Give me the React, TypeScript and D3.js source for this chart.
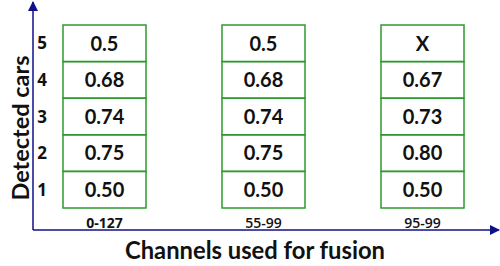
import React from 'react';
import * as d3 from 'd3';

const channels = ['0-127', '55-99', '95-99'];
const detectedCars = [5, 4, 3, 2, 1];
// values per column, listed top (5 cars) to bottom (1 car)
const col0127 = ['0.5', '0.68', '0.74', '0.75', '0.50'];
const col5599 = ['0.5', '0.68', '0.74', '0.75', '0.50'];
const col9599 = ['X', '0.67', '0.73', '0.80', '0.50'];
const values = [col0127, col5599, col9599];

const W = 500;
const H = 266;
const font = 'Lato, "Open Sans", sans-serif';
const smallFont = '"Open Sans", sans-serif';
const axisColor = '#10108a';
const boxColor = '#2e9a2e';

const App = () => {
  const x = d3.scaleBand<string>().domain(channels).range([63, 464]).paddingInner(0.478);
  const y = d3.scaleBand<number>().domain(detectedCars).range([25, 208]);

  const axisX = 33;
  const axisY = 230;

  return (
    <svg width={W} height={H} style={{ position: 'absolute', left: 0, top: 0 }}>
      <defs>
        <marker id="arr" viewBox="0 0 10 10" refX="9" refY="5" markerWidth="10" markerHeight="10"
          markerUnits="userSpaceOnUse" orient="auto">
          <path d="M0,0 L10,5 L0,10 z" fill={axisColor} />
        </marker>
      </defs>
      <rect width={W} height={H} fill="#fff" />

      {channels.map((c, ci) => (
        <g key={c}>
          {detectedCars.map((n, ri) => (
            <g key={n}>
              <rect x={x(c)} y={y(n)} width={x.bandwidth()} height={y.bandwidth()}
                fill="none" stroke={boxColor} strokeWidth={1.5} />
              <text x={(x(c) as number) + x.bandwidth() / 2} y={(y(n) as number) + y.bandwidth() / 2}
                dy="0.36em" textAnchor="middle" fontFamily={font} fontWeight="bold" fontSize={20} fill="#111">
                {values[ci][ri]}
              </text>
            </g>
          ))}
          <text x={(x(c) as number) + x.bandwidth() / 2} y={228} textAnchor="middle"
            fontFamily={smallFont} fontWeight={ci === 0 ? 'bold' : 600} fontSize={14} fill="#111">
            {c}
          </text>
        </g>
      ))}

      {detectedCars.map((n) => (
        <text key={n} x={42} y={(y(n) as number) + y.bandwidth() / 2} dy="0.36em" textAnchor="middle"
          fontFamily={smallFont} fontWeight="bold" fontSize={17} fill="#111">
          {n}
        </text>
      ))}

      <line x1={axisX} y1={axisY} x2={axisX} y2={2} stroke={axisColor} strokeWidth={1.5} markerEnd="url(#arr)" />
      <line x1={axisX} y1={axisY} x2={499} y2={axisY} stroke={axisColor} strokeWidth={1.5} markerEnd="url(#arr)" />

      <text transform={`translate(21,128) rotate(-90)`} dy="0.36em" textAnchor="middle"
        fontFamily={font} fontWeight="bold" fontSize={22} textLength={145} lengthAdjust="spacingAndGlyphs" fill="#111">
        Detected cars
      </text>
      <text x={255} y={250} dy="0.36em" textAnchor="middle"
        fontFamily={font} fontWeight="bold" fontSize={24} textLength={260} lengthAdjust="spacingAndGlyphs" fill="#111">
        Channels used for fusion
      </text>
    </svg>
  );
};

export default App;
